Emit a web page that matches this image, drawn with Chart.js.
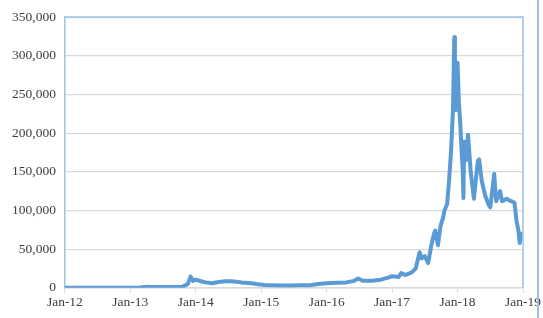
<!DOCTYPE html>
<html>
<head>
<meta charset="utf-8">
<script src="https://cdn.jsdelivr.net/npm/chart.js@4/dist/chart.umd.min.js"></script>
<style>
  html, body { margin: 0; padding: 0; background: #fff; }
  #wrap { position: relative; width: 543px; height: 318px; }
  #edge { position: absolute; left: 537px; top: 0; width: 2px; height: 318px; background: #9dc3e6; }
</style>
</head>
<body>
<div id="wrap">
  <canvas id="price-chart" width="543" height="318"></canvas>
  <div id="edge"></div>
</div>
<script>
// time in fractional years
const years = [
  2012.00, 2012.25, 2012.50, 2012.75, 2013.00, 2013.15, 2013.25, 2013.30, 2013.45, 2013.60,
  2013.80, 2013.88, 2013.92, 2013.96, 2014.00, 2014.08, 2014.15, 2014.25, 2014.35, 2014.45,
  2014.55, 2014.70, 2014.85, 2014.95, 2015.05, 2015.15, 2015.30, 2015.45, 2015.60, 2015.75,
  2015.87, 2016.00, 2016.15, 2016.30, 2016.42, 2016.48, 2016.55, 2016.70, 2016.83, 2016.95,
  2017.00, 2017.10, 2017.14, 2017.20, 2017.30, 2017.36, 2017.42, 2017.45, 2017.50, 2017.55,
  2017.60, 2017.64, 2017.66, 2017.70, 2017.74, 2017.78, 2017.80, 2017.84, 2017.87, 2017.90,
  2017.93, 2017.95, 2017.96, 2017.98, 2018.00, 2018.02, 2018.04, 2018.06, 2018.08, 2018.09,
  2018.10, 2018.13, 2018.16, 2018.20, 2018.25, 2018.28, 2018.31, 2018.33, 2018.37, 2018.42,
  2018.47, 2018.50, 2018.56, 2018.59, 2018.65, 2018.68, 2018.75, 2018.82, 2018.87, 2018.90,
  2018.93, 2018.95, 2018.97, 2019.00
];
const prices = [
  100, 60, 80, 120, 140, 300, 1500, 900, 1000, 1100,
  1500, 5000, 14500, 9000, 10500, 8500, 7000, 6000, 7500, 8500,
  8500, 7000, 6000, 4500, 3500, 3200, 3000, 3000, 3300, 3300,
  5000, 6000, 6500, 7000, 9000, 12000, 9000, 9000, 10500, 13500,
  15000, 14000, 19000, 16500, 20000, 25000, 46000, 38000, 41000, 32000,
  55000, 70000, 74000, 55000, 80000, 91000, 100000, 108000, 138000, 176000,
  230000, 324000, 240000, 230000, 291000, 240000, 215000, 180000, 150000, 116000,
  189000, 165000, 198000, 151000, 115000, 140000, 164000, 166000, 138000, 120000,
  108000, 104000, 147000, 112000, 125000, 112000, 115000, 112000, 110000, 87000,
  74000, 58000, 70000, 65000
];
const yTicks = [0, 50000, 100000, 150000, 200000, 250000, 300000, 350000];

function yearLabel(v){
    return "Jan-" + String(v).slice(2);
}

// top and right edges of the plot box
const frame = {
    id: 'frame',
    afterDraw(chart){
        let a = chart.chartArea;
        let ctx = chart.ctx;
        ctx.save();
        ctx.strokeStyle = '#9dc3e6';
        ctx.lineWidth = 1.5;
        ctx.beginPath();
        ctx.moveTo(a.left, a.top);
        ctx.lineTo(a.right, a.top);
        ctx.lineTo(a.right, a.bottom);
        ctx.stroke();
        ctx.restore();
    }
};

Chart.defaults.font.family = '"Liberation Serif", "Times New Roman", serif';
Chart.defaults.font.size = 13.5;
Chart.defaults.color = '#404040';

let ctx = document.getElementById('price-chart').getContext('2d');
let chart = new Chart(ctx, {
    type: 'line',
    data: {
        datasets: [{
            data: years.map((y, i) => ({x: y, y: prices[i]})),
            borderColor: '#5b9bd5',
            borderWidth: 4,
            pointRadius: 0,
            tension: 0,
            borderJoinStyle: 'round'
        }]
    },
    options: {
        responsive: false,
        animation: false,
        events: [],
        layout: {padding: {top: 5, right: 19, left: 3, bottom: 5}},
        plugins: {legend: {display: false}, tooltip: {enabled: false}},
        scales: {
            x: {
                type: 'linear',
                min: 2012,
                max: 2019,
                ticks: {stepSize: 1, callback: yearLabel, maxRotation: 0, padding: 2},
                grid: {drawOnChartArea: false, drawTicks: true, tickLength: 5, color: '#d9d9d9'},
                border: {color: '#d9d9d9', width: 1.5}
            },
            y: {
                min: 0,
                max: 350000,
                afterBuildTicks: (axis) => { axis.ticks = yTicks.map(v => ({value: v})); },
                ticks: {callback: (v) => v.toLocaleString('en-US'), padding: 9},
                grid: {color: '#d9d9d9', lineWidth: 1.2, drawTicks: false},
                border: {color: '#9dc3e6', width: 1.5}
            }
        }
    },
    plugins: [frame]
});
</script>
</body>
</html>
